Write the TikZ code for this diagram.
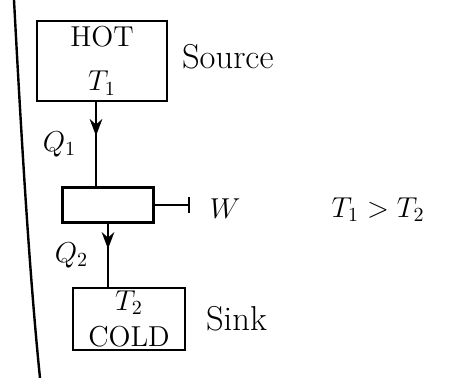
\documentclass[tikz,border=0pt]{standalone}
\usetikzlibrary{arrows.meta,decorations.markings}
\begin{document}
\begin{tikzpicture}[x=0.5pt, y=-0.5pt, >=Stealth, font=\Large, line width=1.2pt]
	\tikzset{
		reservoir/.style={draw, align=center, inner sep=0pt},
		flow/.style={postaction={decorate},
			decoration={markings, mark=at position #1 with {\arrow{>}}}},
	}
	\useasboundingbox (0,0) rectangle (449,378);
	
	% dividing line
	\draw (14,0) .. controls (22,150) and (30,280) .. (40,378);
	
	% reservoirs and engine
	\node[reservoir, minimum width=65pt, minimum height=40pt] (hot) at (102,61) {HOT\\[4pt] $T_1$};
	\node[reservoir, minimum width=45.5pt, minimum height=17.5pt] (engine) at (108,205) {};
	\node[reservoir, minimum width=56pt, minimum height=31pt] (sink) at (129,319) {$T_2$\\ COLD};
	
	\node[anchor=west, font=\LARGE] (source) at (hot.east) [xshift=3pt, yshift=2pt] {Source};
	\node[anchor=west, font=\LARGE] (sinklabel) at (sink.east) [xshift=6pt] {Sink};
	
	% heat flows
	\draw[flow=0.4] ([xshift=-3pt]hot.south) -- ([xshift=-3pt]hot.south |- engine.north)
		node[pos=0.5, left=6pt] (qone) {$Q_1$};
	\draw[flow=0.4] (engine.south) -- (engine.south |- sink.north)
		node[pos=0.5, left=6pt] (qtwo) {$Q_2$};
	
	% work
	\coordinate (wend) at (190,205);
	\draw[-{Bar[width=8pt]}] (engine.east) -- (wend);
	\node[anchor=west] (work) at (wend) [xshift=6pt, yshift=-2pt] {$W$};
	
	\node (cond) at (378,210) {$T_1>T_2$};
\end{tikzpicture}
\end{document}
